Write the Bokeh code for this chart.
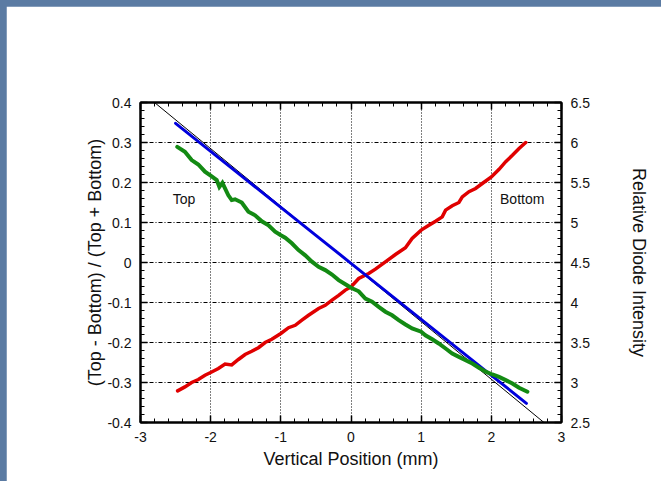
from bokeh.plotting import figure
from bokeh.models import LinearAxis, Range1d, FixedTicker, PrintfTickFormatter, Label
from bokeh.layouts import column
from bokeh.embed import file_html
from bokeh.resources import INLINE
import numpy as np

# Vertical position (mm) and axis ticks
x_ticks = [-3, -2, -1, 0, 1, 2, 3]
asym_ticks = [-0.4, -0.3, -0.2, -0.1, 0, 0.1, 0.2, 0.3, 0.4]
intensity_ticks = [2.5, 3, 3.5, 4, 4.5, 5, 5.5, 6, 6.5]

# Asymmetry (Top - Bottom) / (Top + Bottom)
asym_x = [-2.5, -2.0, -1.5, -1.0, -0.5, 0.0, 0.5, 1.0, 1.5, 2.0, 2.5]
asym_y = [0.348, 0.278, 0.208, 0.138, 0.068, -0.002, -0.072, -0.142, -0.212, -0.282, -0.352]

# Straight reference line
ref_x = [-2.8, 2.75]
ref_y = [0.4, -0.4]

# Top diode intensity
top_x = [-2.476, -2.367, -2.271, -2.176, -2.081, -2.0, -1.914, -1.876, -1.833, -1.748,
         -1.70, -1.652, -1.557, -1.462, -1.367, -1.271, -1.176, -1.081, -1.0, -0.938,
         -0.843, -0.748, -0.652, -0.557, -0.462, -0.367, -0.271, -0.176, -0.057, 0.0,
         0.11, 0.205, 0.30, 0.395, 0.49, 0.586, 0.68, 0.776, 0.871, 1.0,
         1.06, 1.157, 1.25, 1.348, 1.443, 1.538, 1.633, 1.729, 1.824, 1.919,
         2.014, 2.11, 2.205, 2.30, 2.395, 2.514]
top_y = [5.945, 5.885, 5.78, 5.725, 5.635, 5.585, 5.53, 5.445, 5.495, 5.34,
         5.28, 5.29, 5.25, 5.135, 5.09, 5.015, 4.965, 4.885, 4.84, 4.81,
         4.74, 4.655, 4.59, 4.51, 4.445, 4.405, 4.35, 4.28, 4.215, 4.185,
         4.14, 4.05, 4.01, 3.945, 3.885, 3.84, 3.78, 3.725, 3.675, 3.635,
         3.59, 3.54, 3.4875, 3.425, 3.3625, 3.32, 3.28, 3.2375, 3.185, 3.135,
         3.10, 3.07, 3.03, 2.9875, 2.935, 2.885]

# Bottom diode intensity
bot_x = [-2.471, -2.367, -2.271, -2.176, -2.081, -2.0, -1.89, -1.795, -1.70, -1.605,
         -1.51, -1.414, -1.319, -1.224, -1.129, -1.0, -0.89, -0.795, -0.70, -0.605,
         -0.462, -0.367, -0.271, -0.176, -0.081, 0.0, 0.11, 0.252, 0.348, 0.49,
         0.633, 0.776, 0.871, 1.0, 1.11, 1.205, 1.30, 1.348, 1.443, 1.538,
         1.586, 1.681, 1.776, 1.871, 2.0, 2.11, 2.205, 2.30, 2.395, 2.49]
bot_y = [2.895, 2.945, 3.0, 3.0375, 3.09, 3.125, 3.175, 3.23, 3.22, 3.2875,
         3.35, 3.39, 3.435, 3.50, 3.54, 3.6125, 3.685, 3.715, 3.78, 3.84,
         3.925, 3.965, 4.03, 4.09, 4.155, 4.195, 4.30, 4.3625, 4.4165, 4.5085,
         4.60, 4.6835, 4.80, 4.905, 4.965, 5.015, 5.07, 5.155, 5.21, 5.25,
         5.32, 5.385, 5.425, 5.4875, 5.57, 5.665, 5.76, 5.84, 5.925, 6.0]

FONT = "Liberation Sans"
INK = "#111111"

p = figure(width=655, height=475,
           x_range=Range1d(x_ticks[0], x_ticks[-1]),
           y_range=Range1d(asym_ticks[0], asym_ticks[-1]),
           output_backend="svg", toolbar_location=None,
           min_border_left=134, min_border_right=100,
           min_border_top=96, min_border_bottom=59,
           background_fill_color="white", border_fill_color="white")
p.extra_y_ranges = {"intensity": Range1d(intensity_ticks[0], intensity_ticks[-1])}
p.outline_line_color = "black"
p.outline_line_width = 2


def minor_between(ticks, n=5):
    out = []
    for a, b in zip(ticks[:-1], ticks[1:]):
        out.extend(np.linspace(a, b, n + 1)[1:-1].tolist())
    return out


x_ticker = FixedTicker(ticks=x_ticks, minor_ticks=minor_between(x_ticks))
asym_ticker = FixedTicker(ticks=asym_ticks, minor_ticks=minor_between(asym_ticks))
int_ticker = FixedTicker(ticks=intensity_ticks, minor_ticks=minor_between(intensity_ticks))


def style_axis(ax, ticker):
    ax.ticker = ticker
    ax.formatter = PrintfTickFormatter(format="%g")
    ax.major_tick_in = 7
    ax.major_tick_out = 0
    ax.minor_tick_in = 4
    ax.minor_tick_out = 0
    ax.axis_line_color = "black"
    ax.axis_line_width = 2
    ax.major_tick_line_color = "black"
    ax.major_tick_line_width = 1.5
    ax.minor_tick_line_color = "black"
    ax.minor_tick_line_width = 1
    ax.major_label_text_font = FONT
    ax.major_label_text_font_size = "14px"
    ax.major_label_text_color = INK
    ax.major_label_standoff = 9
    ax.axis_label_text_font = FONT
    ax.axis_label_text_font_size = "18px"
    ax.axis_label_text_font_style = "normal"
    ax.axis_label_text_color = INK


xa = p.xaxis[0]
style_axis(xa, x_ticker)
xa.axis_label = "Vertical Position (mm)"
xa.axis_label_standoff = 4

ya = p.yaxis[0]
style_axis(ya, asym_ticker)
ya.axis_label = "(Top - Bottom) / (Top + Bottom)"
ya.axis_label_standoff = -1

ra = LinearAxis(y_range_name="intensity")
style_axis(ra, int_ticker)
ra.axis_label = "Relative Diode Intensity"
ra.axis_label_standoff = 36
p.add_layout(ra, "right")

ta = LinearAxis()
style_axis(ta, x_ticker)
ta.major_label_text_alpha = 0
ta.major_label_text_font_size = "1px"
p.add_layout(ta, "above")

# Grid: dotted verticals, dash-dot horizontals
p.xgrid.ticker = x_ticker
p.xgrid.grid_line_color = "black"
p.xgrid.grid_line_width = 1
p.xgrid.grid_line_dash = "1 2"
p.ygrid.ticker = asym_ticker
p.ygrid.grid_line_color = "black"
p.ygrid.grid_line_width = 1
p.ygrid.grid_line_dash = "4 2 1 2"

p.line(ref_x, ref_y, line_color="black", line_width=1)
p.line(bot_x, bot_y, y_range_name="intensity", line_color="#e00000", line_width=3.5,
       line_join="miter", line_cap="round")
p.line(asym_x, asym_y, line_color="#0000dd", line_width=3, line_cap="round")
p.line(top_x, top_y, y_range_name="intensity", line_color="#138a13", line_width=4,
       line_join="miter", line_cap="round")

for txt, xx in (("Top", -2.38), ("Bottom", 2.44)):
    p.add_layout(Label(x=xx, y=0.159, text=txt, text_font=FONT, text_font_size="14px",
                       text_color=INK, text_align="center", text_baseline="middle"))

p.margin = (6, 0, 0, 6)
page = column(p, width=661, height=481, styles={"background-color": "#5b7ba3"})

open("out.html", "w").write(file_html(page, INLINE))
